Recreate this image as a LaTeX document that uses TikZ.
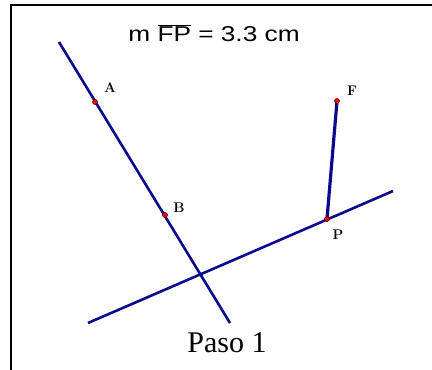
\documentclass[tikz,border=0pt]{standalone}
\usepackage{fontspec}
\setmainfont{Liberation Serif}
\newfontfamily\titlefont{Liberation Sans}
\newfontfamily\labelfont{Latin Modern Roman}
\usepackage{tikz}
\usetikzlibrary{positioning}
\definecolor{geoblue}{RGB}{10,10,140}
\tikzset{
  geoline/.style={geoblue, line width=2.6pt},
  geopt/.style={circle, fill=red, draw=red!30!black, line width=0.6pt, inner sep=0pt, minimum size=5pt},
  ptlabel/.style={font=\labelfont\bfseries\fontsize{14}{16}\selectfont, inner sep=1pt}
}

\begin{document}
\begin{tikzpicture}[x=1pt,y=-1pt]
\useasboundingbox (0,0) rectangle (432,370);
% Frame
\draw[line width=2pt] (11,370) -- (11,5) -- (432,5);

% Points
\coordinate (A) at (95,102);
\coordinate (B) at (165,215);
\coordinate (F) at (337,101);
\coordinate (P) at (327,219);
\coordinate (l1) at (59,42);
\coordinate (l2) at (230,323);
\coordinate (m1) at (88,323);
\coordinate (m2) at (393,191);

% Lines
\draw[geoline] (l1) -- (l2);
\draw[geoline] (m1) -- (m2);
\draw[geoline, line width=3.2pt] (P) -- (F);

% Dots and labels
\foreach \p in {A,B,F,P}
  \node[geopt] (\p dot) at (\p) {};
\node[ptlabel] (Alab) at (110,88) {A};
\node[ptlabel] (Blab) at (179,208) {B};
\node[ptlabel] (Flab) at (352,91) {F};
\node[ptlabel] (Plab) at (338,235) {P};

% Texts
\node[font=\titlefont\fontsize{21.5}{24}\selectfont] (title) at (214,33)
  {\scalebox{1.22}[1]{m $\overline{\mbox{FP}}$ = 3.3 cm}};
\node[font=\fontsize{30}{34}\selectfont] (paso) at (227,343) {Paso 1};
\end{tikzpicture}
\end{document}
